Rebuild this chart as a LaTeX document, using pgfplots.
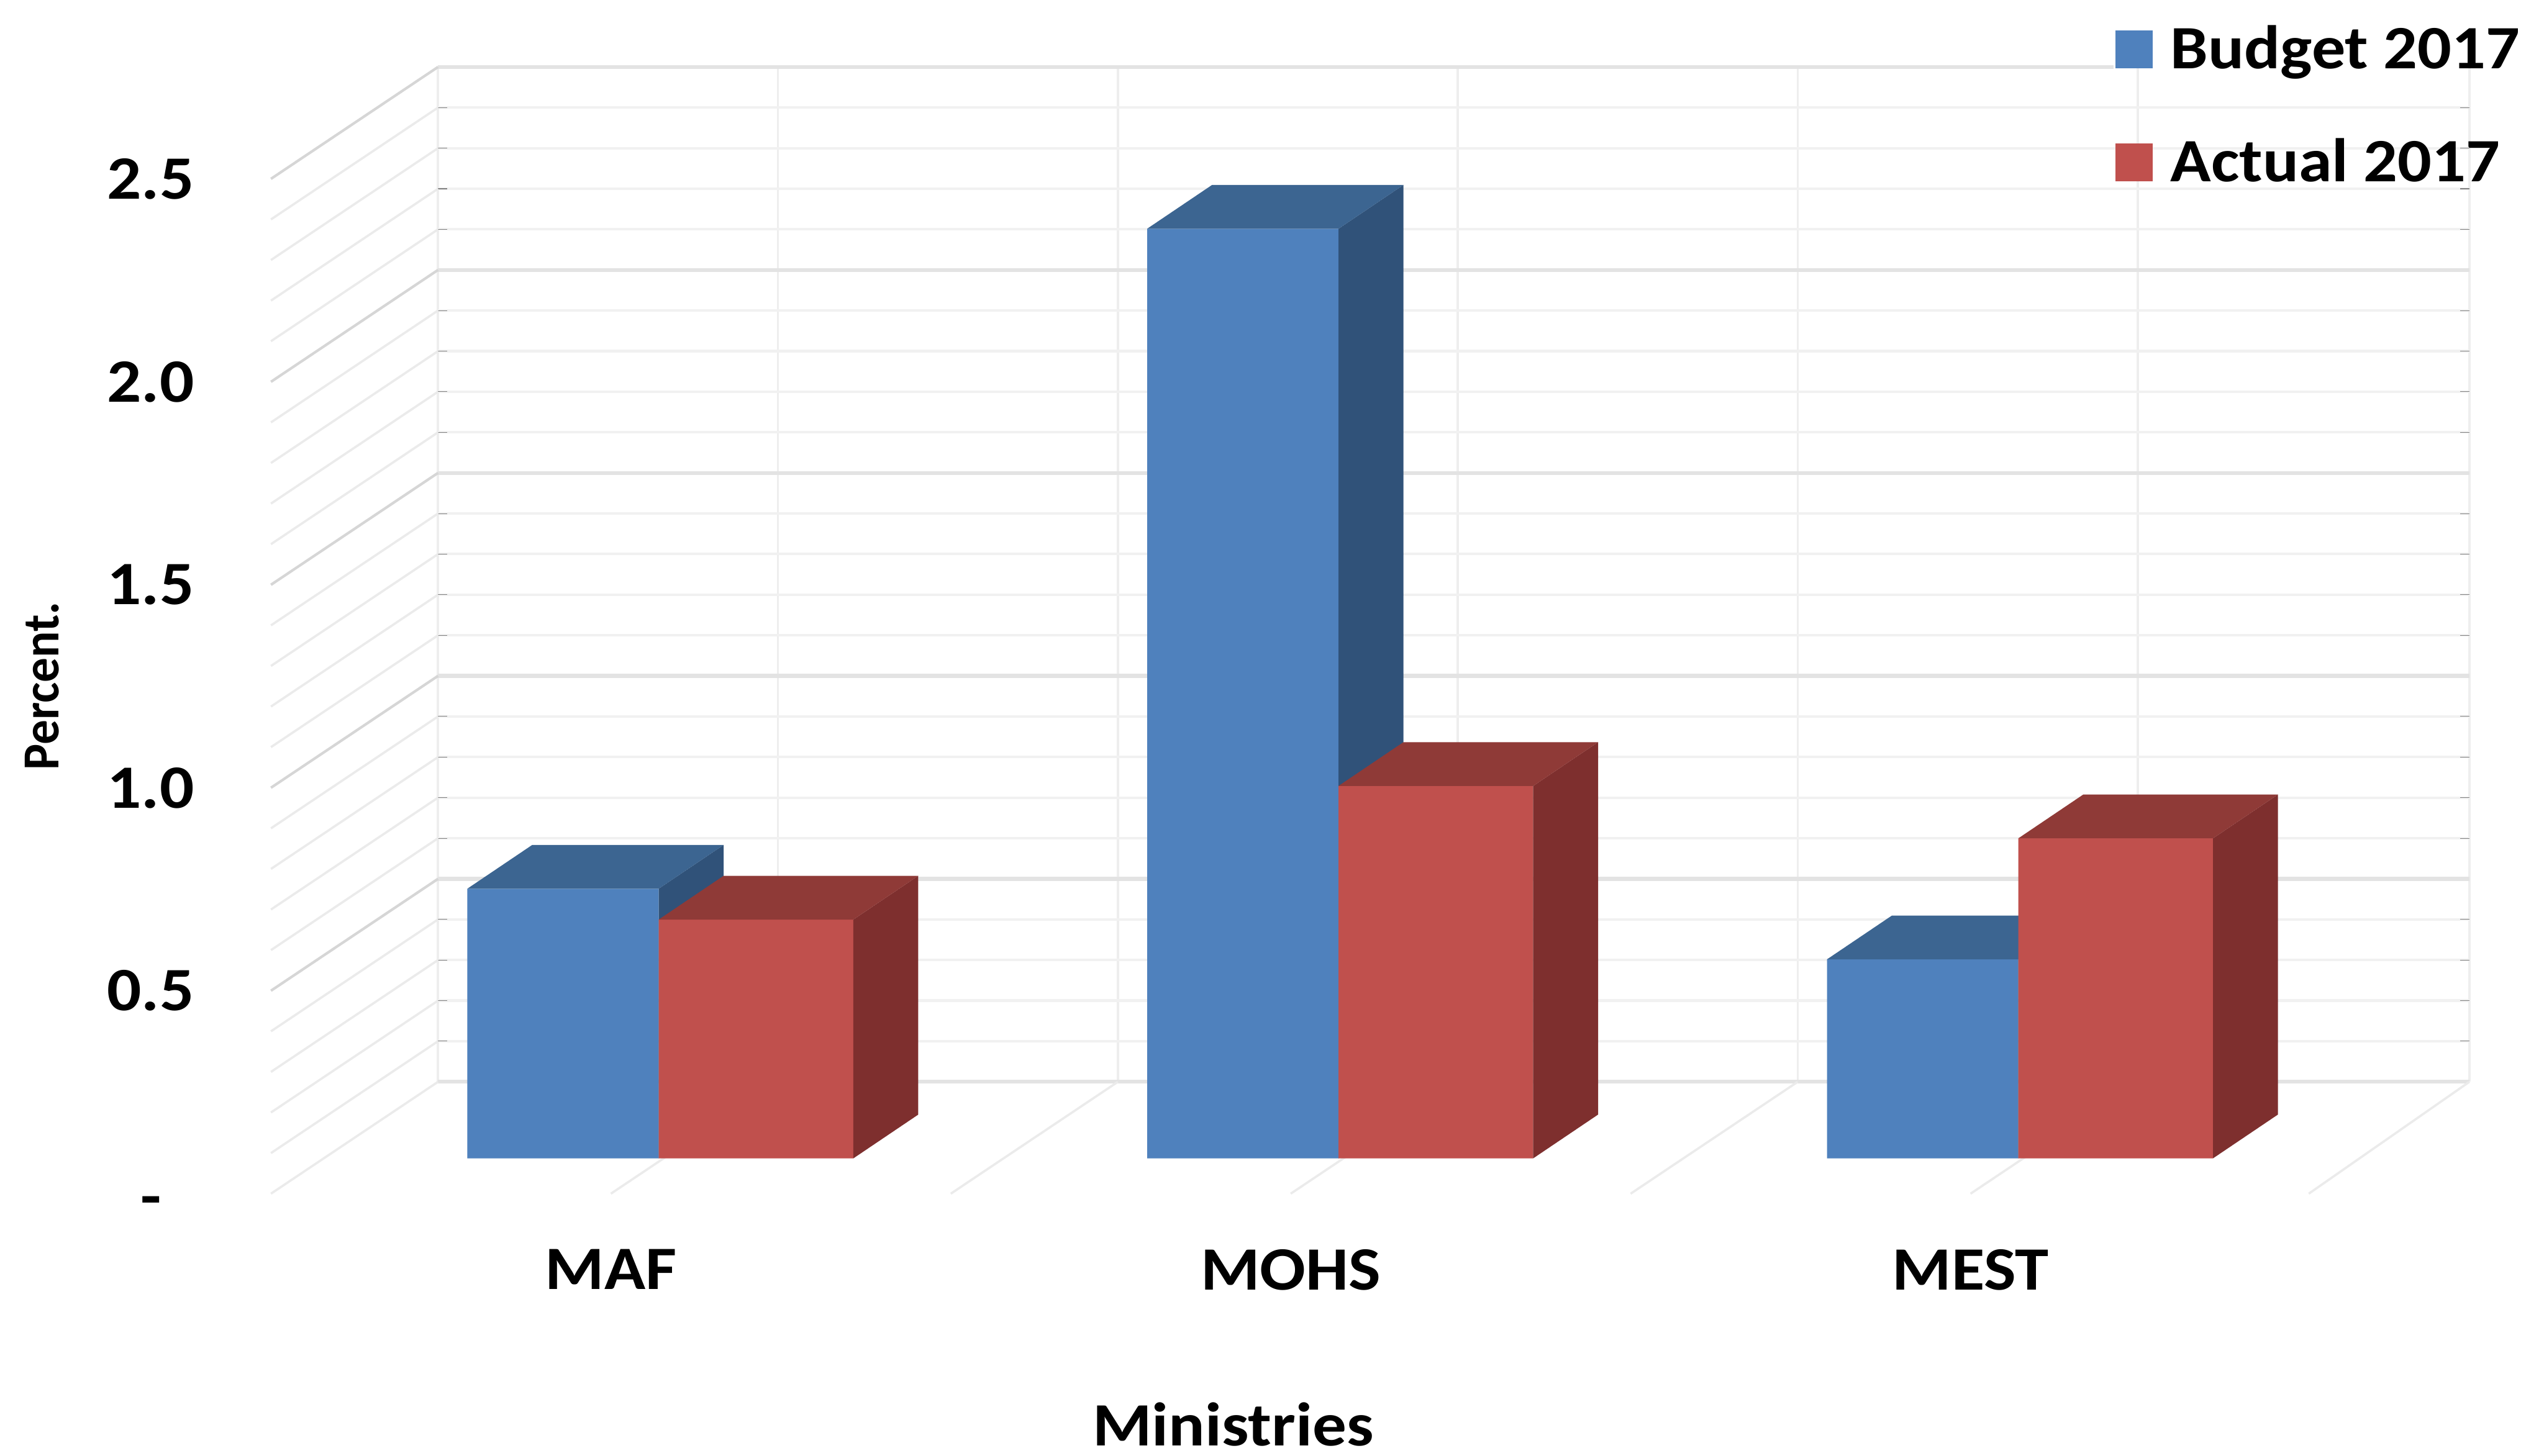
\documentclass[border=0pt]{standalone}
\usepackage{pgfplots}
\pgfplotsset{compat=1.18}
\usepackage{fontspec}
\setmainfont{Carlito}
\newfontfamily\tickfont{Carlito}[FakeStretch=1.1]
\newfontfamily\legendfont{Carlito}[FakeStretch=1.09]
\newfontfamily\ylabfont{Carlito}[FakeStretch=0.95]

\definecolor{blueFront}{HTML}{4F81BD}
\definecolor{blueTop}{HTML}{3C6591}
\definecolor{blueSide}{HTML}{305279}
\definecolor{redFront}{HTML}{C0504D}
\definecolor{redTop}{HTML}{8F3A37}
\definecolor{redSide}{HTML}{7E2F2E}
\definecolor{wallMajor}{HTML}{E3E3E3}
\definecolor{wallMinor}{HTML}{F1F1F1}
\definecolor{wallVert}{HTML}{EEEEEE}
\definecolor{diagMajor}{HTML}{D6D6D6}
\definecolor{diagMinor}{HTML}{EBEBEB}

\pgfplotsset{
  squarepatch/.style={legend image code/.code={
    \fill[##1] (0pt,-5.8pt) rectangle (11.5pt,5.8pt);}},
  face/.style={fill=#1,draw=none,no marks,forget plot,sharp plot},
}

\begin{document}
\begin{tikzpicture}
\useasboundingbox (0pt,0pt) rectangle (784pt,448.7pt);

% Back wall of the chart, with the side wall and the floor running out of it
\begin{axis}[
  at={(135pt,115.2pt)},anchor=south west,
  scale only axis,width=626pt,height=312.85pt,
  xmin=0,xmax=5.976,ymin=0,ymax=2.5,
  clip=false,
  axis line style={draw=none},
  major tick length=0pt,
  xtick={0,1,2,3,4,5,5.976},
  xticklabels={,MAF,,MOHS,,MEST,},
  xticklabel style={font=\tickfont\bfseries\fontsize{19}{19}\selectfont,
    anchor=north,inner sep=0pt,xshift=-51.5pt,yshift=-51.5pt},
  ytick={0,0.5,1,1.5,2},
  extra y ticks={2.5},
  extra y tick style={grid=none},
  extra y tick labels={2.5},
  yticklabels={\raisebox{-7.25pt}[0pt][0pt]{-}\hspace*{10pt},0.5,1.0,1.5,2.0},
  yticklabel style={font=\tickfont\bfseries\fontsize{19}{19}\selectfont,
    anchor=east,inner sep=0pt,xshift=-75pt,yshift=-34.5pt},
  minor ytick={0.1,0.2,0.3,0.4,0.6,0.7,0.8,0.9,1.1,1.2,1.3,1.4,1.6,1.7,1.8,1.9,2.1,2.2,2.3,2.4},
  grid=both,
  major x grid style={draw=wallVert,line width=0.7pt},
  major y grid style={draw=wallMajor,line width=1.2pt},
  minor y grid style={draw=wallMinor,line width=0.8pt},
  xlabel={Ministries},
  xlabel style={font=\tickfont\bfseries\fontsize{19}{19}\selectfont,
    at={(axis description cs:0.3914,-0.3375)},anchor=center,inner sep=0pt},
  ylabel={Percent.},
  ylabel style={font=\ylabfont\bfseries\fontsize{16}{16}\selectfont,
    at={(axis description cs:-0.1949,0.39)},anchor=center,inner sep=0pt},
]
% top edge of the back wall stops where the legend begins
\addplot[draw=wallMajor,line width=1.2pt,no marks,sharp plot,forget plot]
  coordinates {(0,2.5) (4.93,2.5)};
% side wall, minor lines
\addplot[draw=diagMinor,line width=0.7pt,no marks,sharp plot,forget plot,unbounded coords=jump]
  coordinates {
    (0,0) (-0.4916,-0.2756) (0,nan)
    (0,0.1) (-0.4916,-0.1756) (0,nan)
    (0,0.2) (-0.4916,-0.0756) (0,nan)
    (0,0.3) (-0.4916,0.0244) (0,nan)
    (0,0.4) (-0.4916,0.1244) (0,nan)
    (0,0.6) (-0.4916,0.3244) (0,nan)
    (0,0.7) (-0.4916,0.4244) (0,nan)
    (0,0.8) (-0.4916,0.5244) (0,nan)
    (0,0.9) (-0.4916,0.6244) (0,nan)
    (0,1.1) (-0.4916,0.8244) (0,nan)
    (0,1.2) (-0.4916,0.9244) (0,nan)
    (0,1.3) (-0.4916,1.0244) (0,nan)
    (0,1.4) (-0.4916,1.1244) (0,nan)
    (0,1.6) (-0.4916,1.3244) (0,nan)
    (0,1.7) (-0.4916,1.4244) (0,nan)
    (0,1.8) (-0.4916,1.5244) (0,nan)
    (0,1.9) (-0.4916,1.6244) (0,nan)
    (0,2.1) (-0.4916,1.8244) (0,nan)
    (0,2.2) (-0.4916,1.9244) (0,nan)
    (0,2.3) (-0.4916,2.0244) (0,nan)
    (0,2.4) (-0.4916,2.1244)
  };
% side wall, major lines
\addplot[draw=diagMajor,line width=0.8pt,no marks,sharp plot,forget plot,unbounded coords=jump]
  coordinates {
    (0,0.5) (-0.4916,0.2244) (0,nan)
    (0,1) (-0.4916,0.7244) (0,nan)
    (0,1.5) (-0.4916,1.2244) (0,nan)
    (0,2) (-0.4916,1.7244) (0,nan)
    (0,2.5) (-0.4916,2.2244)
  };
% floor
\addplot[draw=diagMinor,line width=0.7pt,no marks,sharp plot,forget plot,unbounded coords=jump]
  coordinates {
    (1,0) (0.5084,-0.2756) (0,nan)
    (2,0) (1.5084,-0.2756) (0,nan)
    (3,0) (2.5084,-0.2756) (0,nan)
    (4,0) (3.5084,-0.2756) (0,nan)
    (5,0) (4.5084,-0.2756) (0,nan)
    (5.976,0) (5.5034,-0.2756)
  };
\end{axis}

% The bars stand on a plane set forward of the back wall
\begin{axis}[
  at={(98.25pt,91.6pt)},anchor=south west,
  scale only axis,width=628.5pt,height=313pt,
  xmin=-0.5,xmax=2.5,ymin=0,ymax=2.5,
  clip=false,
  axis line style={draw=none},
  ticks=none,
  legend cell align=left,
  legend style={at={(0.881,1.1225)},anchor=north west,draw=none,fill=none,
    inner sep=0pt,outer sep=0pt,
    font=\legendfont\bfseries\fontsize{19}{19}\selectfont,
    row sep=16pt,
    /tikz/every odd column/.append style={column sep=3.5pt}},
]
% Budget 2017
\addplot[ybar,bar width=0.2815,bar shift=-0.14075,fill=blueFront,draw=none,squarepatch]
  coordinates {(0,0.664) (1,2.289) (2,0.490)};
\addlegendentry{Budget 2017}
\addplot[face=blueSide] coordinates {(0,0) (0.0955,0.1078) (0.0955,0.7718) (0,0.664)} -- cycle;
\addplot[face=blueTop] coordinates {(-0.2815,0.664) (0,0.664) (0.0955,0.7718) (-0.186,0.7718)} -- cycle;
\addplot[face=blueSide] coordinates {(1,0) (1.0955,0.1078) (1.0955,2.3968) (1,2.289)} -- cycle;
\addplot[face=blueTop] coordinates {(0.7185,2.289) (1,2.289) (1.0955,2.3968) (0.814,2.3968)} -- cycle;
\addplot[face=blueSide] coordinates {(2,0) (2.0955,0.1078) (2.0955,0.5978) (2,0.490)} -- cycle;
\addplot[face=blueTop] coordinates {(1.7185,0.490) (2,0.490) (2.0955,0.5978) (1.814,0.5978)} -- cycle;
% Actual 2017
\addplot[ybar,bar width=0.2863,bar shift=0.14315,fill=redFront,draw=none,squarepatch]
  coordinates {(0,0.588) (1,0.917) (2,0.788)};
\addlegendentry{Actual 2017}
\addplot[face=redSide] coordinates {(0.2863,0) (0.3818,0.1078) (0.3818,0.6958) (0.2863,0.588)} -- cycle;
\addplot[face=redTop] coordinates {(0,0.588) (0.2863,0.588) (0.3818,0.6958) (0.0955,0.6958)} -- cycle;
\addplot[face=redSide] coordinates {(1.2863,0) (1.3818,0.1078) (1.3818,1.0248) (1.2863,0.917)} -- cycle;
\addplot[face=redTop] coordinates {(1,0.917) (1.2863,0.917) (1.3818,1.0248) (1.0955,1.0248)} -- cycle;
\addplot[face=redSide] coordinates {(2.2863,0) (2.3818,0.1078) (2.3818,0.8958) (2.2863,0.788)} -- cycle;
\addplot[face=redTop] coordinates {(2,0.788) (2.2863,0.788) (2.3818,0.8958) (2.0955,0.8958)} -- cycle;
\end{axis}
\end{tikzpicture}
\end{document}
